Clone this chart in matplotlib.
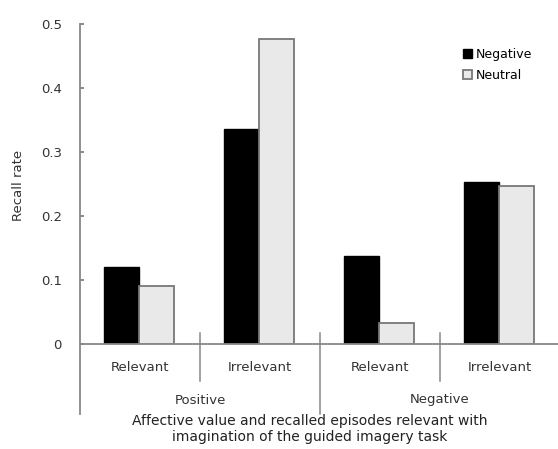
import numpy as np
import matplotlib.pyplot as plt

# data
groups = ["Positive", "Negative"]
subgroups = ["Relevant", "Irrelevant", "Relevant", "Irrelevant"]
series = ["Negative", "Neutral"]
negative = [0.120, 0.336, 0.137, 0.253]
neutral = [0.090, 0.476, 0.033, 0.247]

fig = plt.figure(figsize=(5.58, 4.49), dpi=100)
ax = fig.add_axes([80 / 558, 105 / 449, 478 / 558, 320 / 449])

x = np.arange(len(subgroups))
w = 0.29
ax.bar(x + 0.345, negative, w, color="black", edgecolor="black", linewidth=1.0,
       label=series[0])
ax.bar(x + 0.635, neutral, w, color="#e9e9e9", edgecolor="#777777", linewidth=1.3,
       label=series[1])

ax.set_xlim(0, 478 / 120)
ax.set_ylim(0, 0.5)
ax.set_yticks([0, 0.1, 0.2, 0.3, 0.4, 0.5])
ax.set_yticklabels(["0", "0.1", "0.2", "0.3", "0.4", "0.5"])
ax.set_xticks([])
ax.tick_params(axis="y", direction="in", length=3, width=1.2, color="#777777",
               labelsize=9.5, labelcolor="#333333", pad=13)

for s in ["top", "right", "left"]:
    ax.spines[s].set_visible(False)
ax.spines["bottom"].set_color("#888888")
ax.spines["bottom"].set_linewidth(1.3)

# y axis line, running down into the category area
ax.plot([0, 0], [-0.219, 1], transform=ax.transAxes, color="#888888",
        lw=1.3, clip_on=False)

# separators between categories
trans = ax.get_xaxis_transform()
for xs in [1, 3]:
    ax.plot([xs, xs], [0.034, -0.116], transform=trans, color="#888888",
            lw=1.1, clip_on=False)
ax.plot([2, 2], [0.034, -0.219], transform=trans, color="#888888",
        lw=1.1, clip_on=False)

for i, lab in enumerate(subgroups):
    ax.text(i + 0.5, -0.072, lab, transform=trans, ha="center", va="center",
            fontsize=9.5, color="#333333")
for i, lab in enumerate(groups):
    ax.text(2 * i + 1, -0.175, lab, transform=trans, ha="center", va="center",
            fontsize=9.5, color="#333333")

fig.text(310 / 558, 1 - 429 / 449,
         "Affective value and recalled episodes relevant with\n"
         "imagination of the guided imagery task",
         ha="center", va="center", fontsize=10, color="#222222", linespacing=1.1)
fig.text(18 / 558, 1 - 185 / 449, "Recall rate", rotation=90, ha="center",
         va="center", fontsize=9.5, color="#333333")

ax.legend(loc="upper left", bbox_to_anchor=(0.79, 0.94), frameon=False,
          fontsize=9, handlelength=0.75, handleheight=0.75, handletextpad=0.3,
          labelspacing=0.6, borderaxespad=0)

fig.savefig("out.png", dpi=100)
